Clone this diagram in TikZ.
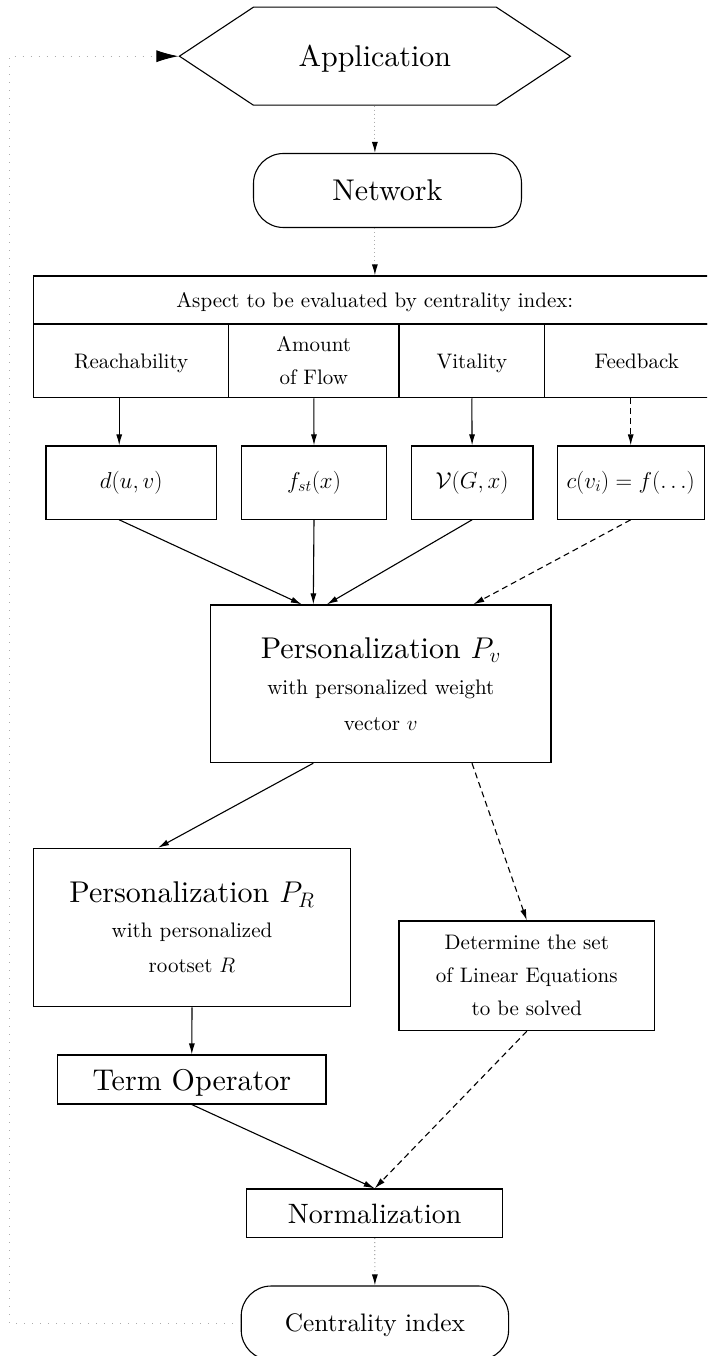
\RequirePackage{fix-cm}
\documentclass[tikz,border=0pt]{standalone}
\usepackage{fontspec}
\setmainfont{lmroman10-regular.otf}[ItalicFont=lmroman10-italic.otf,BoldFont=lmroman10-bold.otf]
\usetikzlibrary{arrows.meta}
\usetikzlibrary{shapes.symbols}

\begin{document}
\begin{tikzpicture}
[x=1pt,y=-1pt,line width=1.1pt,%
  every node/.style={shape=rectangle,draw,inner sep=0pt,align=center},%
  big/.style={font=\fontsize{30}{36}\selectfont},%
  small/.style={font=\fontsize{21}{33}\selectfont},%
  flat/.style={text depth=0pt},%
  formula/.style={font=\fontsize{23}{28}\selectfont,minimum height=73.3pt},%
  cell/.style={small,minimum height=73.7pt},%
  terminal/.style={rounded corners=30pt,minimum width=268pt,minimum height=74pt},%
  arr/.style={-{Latex[length=11pt,width=6pt]}},%
  dashedarr/.style={arr,dash pattern=on 6pt off 4pt},%
  dotarr/.style={-{Latex[length=11pt,width=6pt,color=black]},draw=gray!65,dash pattern=on 1pt off 3pt},%
  backarr/.style={-{Latex[length=22pt,width=12pt,color=black]},draw=gray!65,line width=0.9pt,dash pattern=on 1pt off 7pt}]
\useasboundingbox (0,0) rectangle (707,1356);
\clip (0,0) rectangle (707,1356);

\node[big,flat,shape=signal,signal to=west and east,signal pointer angle=67,
  minimum width=391pt,minimum height=98pt] (app) at (374.9,56.2) {Application};
\node[big,flat,terminal] (net) at (387.5,190.5) {Network};

% aspects table
\node[small,flat,minimum width=682pt,minimum height=48pt] (aspect) at (374.9,300) {Aspect to be evaluated by centrality index:};
\node[cell,flat,minimum width=194.8pt] (reach) at (131.2,360.85) {Reachability};
\node[cell,minimum width=170.4pt] (amount) at (313.8,360.85) {Amount\\of Flow};
\node[cell,flat,minimum width=145.6pt] (vital) at (471.8,360.85) {Vitality};
\node[cell,flat,minimum width=184.2pt] (feedb) at (636.7,360.85) {Feedback};

\node[formula,minimum width=170.4pt] (dist) at (131.2,482.6) {$d(u,v)$};
\node[formula,minimum width=145.6pt] (flow) at (314,482.6) {$f_{st}(x)$};
\node[formula,minimum width=121.8pt] (vit) at (472.1,482.6) {$\mathcal{V}(G,x)$};
\node[formula,minimum width=146.7pt] (feed) at (630.7,482.6) {$c(v_i)=f(\ldots)$};

\node[font=\fontsize{21}{36}\selectfont,minimum width=340.3pt,minimum height=157.7pt] (pv) at (380.8,683.8)
  {{\fontsize{30}{36}\selectfont Personalization $P_v$}\\with personalized weight\\vector $v$};
\node[font=\fontsize{21}{35}\selectfont,minimum width=316.5pt,minimum height=158.4pt] (pr) at (192,927.5)
  {{\fontsize{30}{35}\selectfont Personalization $P_R$}\\with personalized\\rootset $R$};
\node[small,minimum width=255.6pt,minimum height=109.7pt] (lineq) at (526.8,975.8)
  {Determine the set\\of Linear Equations\\to be solved};
\node[big,flat,minimum width=268.3pt,minimum height=49pt] (term) at (191.8,1079.5) {Term Operator};
\node[font=\fontsize{28}{34}\selectfont,flat,minimum width=256pt,minimum height=48.7pt] (norm) at (374.7,1213.3) {Normalization};
\node[font=\fontsize{25.3}{30}\selectfont,flat,terminal,minimum width=267.4pt] (cent) at (374.9,1323) {Centrality index};

% connectors
\draw[dotarr] (app.south) -- (app.south |- net.north);
\draw[dotarr] (net.south -| app.south) -- (app.south |- aspect.north);
\draw[arr] ([xshift=-12pt]reach.south) -- ([xshift=-12pt]dist.north);
\draw[arr] (amount.south) -- (flow.north);
\draw[arr] (vital.south) -- (vit.north);
\draw[dashedarr] (feedb.south -| feed.north) -- (feed.north);
\draw[arr] ([xshift=-12pt]dist.south) -- ([xshift=-79pt]pv.north);
\draw[arr] (flow.south) -- ([xshift=-67.5pt]pv.north);
\draw[arr] (vit.south) -- ([xshift=-54pt]pv.north);
\draw[dashedarr] (feed.south) -- ([xshift=92.5pt]pv.north);
\draw[arr] ([xshift=-67.5pt]pv.south) -- ([xshift=-34pt]pr.north);
\draw[dashedarr] ([xshift=91.2pt]pv.south) -- (lineq.north);
\draw[arr] (pr.south) -- (term.north);
\draw[arr] (term.south) -- (norm.north);
\draw[dashedarr] (lineq.south) -- (norm.north);
\draw[dotarr] (norm.south) -- (cent.north);

% feedback loop
\coordinate (loop) at (9,0);
\draw[backarr] (cent.west) -- (cent.west -| loop) -- (app.west -| loop) -- (app.west);
\end{tikzpicture}
\end{document}
